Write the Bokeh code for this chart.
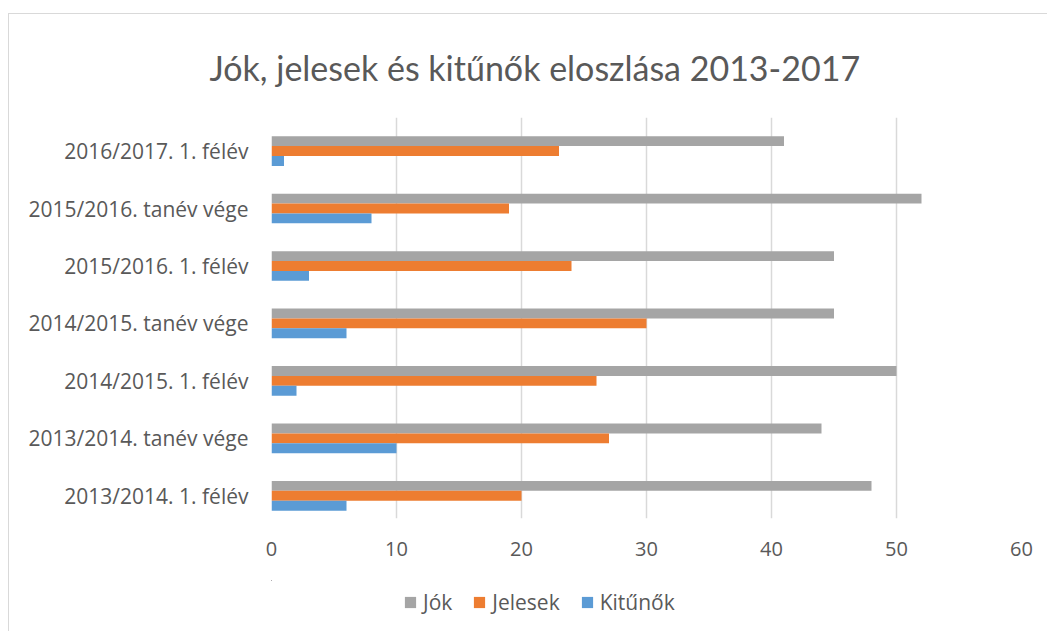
from bokeh.plotting import figure
from bokeh.layouts import column
from bokeh.models import ColumnDataSource, FixedTicker, Legend, LegendItem, Range1d
from bokeh.embed import file_html
from bokeh.resources import INLINE

categories = [
    "2013/2014. 1. félév",
    "2013/2014. tanév vége",
    "2014/2015. 1. félév",
    "2014/2015. tanév vége",
    "2015/2016. 1. félév",
    "2015/2016. tanév vége",
    "2016/2017. 1. félév",
]
jok = [48, 44, 50, 45, 45, 52, 41]
jelesek = [20, 27, 26, 30, 24, 19, 23]
kitunok = [6, 10, 2, 6, 3, 8, 1]
x_ticks = [0, 10, 20, 30, 40, 50, 60]
series_names = ["Jók", "Jelesek", "Kitűnők"]
series_cols = ["jok", "jelesek", "kitunok"]
series_colors = ["#a5a5a5", "#ed7d31", "#5b9bd5"]

TEXT = "#595959"
GRID = "#d9d9d9"
bar_h = 0.172

idx = list(range(len(categories)))
src = ColumnDataSource(dict(
    y_jok=[i + bar_h for i in idx],
    y_jelesek=[i for i in idx],
    y_kitunok=[i - bar_h for i in idx],
    jok=jok, jelesek=jelesek, kitunok=kitunok,
))

p = figure(width=1038, height=566, output_backend="svg", toolbar_location=None,
           x_range=Range1d(0, 60), y_range=Range1d(-0.395, 6.584),
           min_border_left=262, min_border_right=26, min_border_top=98, min_border_bottom=62)

p.title.text = "Jók, jelesek és kitűnők eloszlása 2013-2017"
p.title.align = "left"
p.title.offset = -62
p.title.text_font = "Lato"
p.title.text_font_size = "34px"
p.title.text_font_style = "normal"
p.title.text_color = TEXT
p.title.standoff = 60

for col, color in zip(series_cols, series_colors):
    p.hbar(y="y_" + col, right=col, left=0, height=bar_h, source=src, color=color, line_color=None)

p.outline_line_color = None
p.ygrid.grid_line_color = None
p.xgrid.grid_line_color = GRID
p.xgrid.grid_line_width = 1.5
p.xaxis.ticker = FixedTicker(ticks=x_ticks)
p.yaxis.ticker = FixedTicker(ticks=idx)
p.yaxis.major_label_overrides = {i: c for i, c in zip(idx, categories)}

for ax in (p.xaxis, p.yaxis):
    ax.axis_line_color = None
    ax.major_tick_line_color = None
    ax.minor_tick_line_color = None
    ax.major_label_text_color = TEXT
    ax.major_label_text_font = "Open Sans"
p.xaxis.major_label_text_font_size = "20px"
p.yaxis.major_label_text_font_size = "21px"
p.xaxis.major_label_standoff = 17
p.yaxis.major_label_standoff = 17

# legend strip below the chart (series kept out of view, only their legend swatches show)
leg = figure(width=1038, height=51, output_backend="svg", toolbar_location=None,
             x_axis_type=None, y_axis_type=None, min_border=0,
             x_range=Range1d(1000, 1060), y_range=Range1d(-20, -19))
leg.outline_line_color = None
leg.xgrid.grid_line_color = None
leg.ygrid.grid_line_color = None
items = []
for name, col, color in zip(series_names, series_cols, series_colors):
    r = leg.hbar(y="y_" + col, right=col, left=0, height=0, source=src,
                 fill_color=color, line_color=None)
    items.append(LegendItem(label=name, renderers=[r]))
legend = Legend(items=items, orientation="horizontal", location=(132, 15))
legend.glyph_width = 14
legend.glyph_height = 14
legend.label_standoff = 6
legend.spacing = 20
legend.padding = 0
legend.margin = 0
legend.border_line_color = None
legend.background_fill_alpha = 0
legend.label_text_font = "Open Sans"
legend.label_text_font_size = "21px"
legend.label_text_color = TEXT
leg.add_layout(legend, "center")

layout = column(p, leg, spacing=0, margin=(13, 0, 0, 8),
                styles={"border-top": "1.5px solid #d9d9d9", "border-left": "1.5px solid #d9d9d9"})

open("out.html", "w").write(file_html(layout, INLINE))
